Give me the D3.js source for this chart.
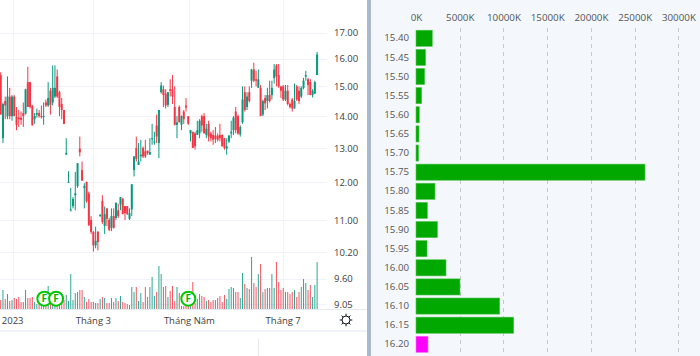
<!DOCTYPE html>
<html>
<head>
<meta charset="utf-8">
<script src="https://cdn.jsdelivr.net/npm/d3@7"></script>
<style>
  html, body { margin: 0; padding: 0; background: #fff; overflow: hidden; }
  svg { display: block; }
  text { font-family: "Open Sans", sans-serif; }
</style>
</head>
<body>
<svg id="chart" width="700" height="356"></svg>
<script>
// candles, oldest first
const opens = [
  15.4,13.3,14.5,14.0,14.65,14.0,14.65,13.98,13.95,13.95,
  14.1,14.08,15.15,15.15,14.35,13.9,14.05,14.1,14.0,13.97,
  14.45,14.35,14.85,14.45,14.65,15.35,14.8,14.4,14.2,12.8,
  12.0,11.25,11.36,11.65,11.9,12.98,12.35,11.85,12.02,11.7,
  11.0,10.7,10.37,10.7,11.1,11.5,10.85,11.3,11.0,10.8,
  11.1,11.05,11.25,11.4,11.55,11.36,11.36,11.03,11.27,12.35,
  13.0,12.5,12.75,13.0,12.9,12.92,12.8,13.28,13.18,13.7,
  13.15,14.8,14.9,14.75,14.37,14.9,14.9,14.3,13.72,14.3,
  13.72,14.15,14.35,14.0,13.45,13.5,13.45,13.4,13.45,14.0,
  14.0,13.4,13.75,13.45,13.4,13.38,13.38,13.4,13.4,13.3,
  12.98,13.2,13.45,13.55,14.15,14.0,13.42,13.8,14.8,14.3,
  14.8,15.2,15.6,15.25,14.95,14.95,14.05,14.6,14.5,14.7,
  14.7,15.3,15.75,15.4,15.0,15.0,14.55,14.85,14.4,14.55,
  14.25,15.0,14.85,14.65,14.95,15.35,15.25,15.15,14.7,14.75,15.4
];
const closes = [
  14.05,14.4,14.35,14.65,14.0,14.65,14.0,13.72,13.9,13.88,
  14.0,14.9,14.3,14.3,13.7,14.0,14.1,14.0,13.97,14.0,
  14.35,14.6,14.37,14.95,14.95,14.65,14.3,14.2,13.75,12.85,
  12.02,11.27,11.55,11.7,12.55,12.87,12.05,11.9,11.49,10.87,
  10.7,10.37,10.48,10.45,11.13,10.95,11.15,11.03,10.75,11.1,
  10.8,11.45,11.1,11.6,11.15,11.18,11.15,11.18,11.95,12.75,
  12.67,12.6,12.8,12.75,12.75,12.85,12.88,13.3,13.2,13.35,
  14.2,15.03,14.7,14.35,14.8,14.85,14.65,13.72,13.8,13.8,
  14.0,13.9,14.28,13.75,13.55,13.0,13.05,13.55,13.85,13.7,
  13.45,13.6,13.35,13.3,13.25,13.28,13.25,13.3,13.05,13.0,
  13.05,13.38,13.5,13.95,13.55,13.45,13.65,14.55,14.2,14.65,
  14.5,15.6,15.2,15.2,15.25,14.0,14.5,14.42,14.7,14.5,
  14.95,15.6,15.35,15.0,14.85,14.55,14.85,14.4,14.3,14.25,
  14.5,14.55,14.5,14.95,15.2,15.4,15.05,14.7,14.85,15.15,16.15
];
const highs = [
  15.5,14.45,14.65,15.35,14.95,14.7,14.7,14.3,14.2,14.15,
  14.45,14.92,15.7,15.15,14.35,14.1,14.25,14.2,14.35,14.45,
  14.55,15.15,14.95,15.75,15.75,15.6,14.85,14.6,14.2,13.3,
  12.32,11.85,11.6,12.3,12.55,13.35,12.6,11.98,12.02,11.75,
  11.1,10.72,10.83,10.72,11.15,11.65,11.35,11.3,11.05,11.3,
  11.3,11.45,11.42,11.6,11.58,11.36,11.36,11.3,11.95,12.75,
  13.35,13.15,13.25,13.05,13.25,12.92,13.3,13.75,13.5,14.05,
  14.2,15.15,15.03,14.9,14.8,15.25,15.4,15.0,14.0,14.35,
  14.02,14.2,14.6,14.0,13.55,13.5,13.5,13.85,13.9,14.05,
  14.1,13.75,13.85,13.5,13.55,13.65,13.45,13.75,13.42,13.3,
  13.3,13.4,13.85,14.0,14.3,14.05,13.7,15.0,15.0,14.8,
  15.0,15.62,15.85,15.55,15.6,15.05,14.55,14.7,14.95,15.2,
  15.2,15.8,15.8,15.8,15.0,15.05,15.05,15.05,14.45,14.6,
  15.1,15.05,15.0,15.0,15.3,15.55,15.3,15.25,14.9,15.2,16.25
];
const lows = [
  14.05,13.15,13.9,13.9,13.9,13.85,14.0,13.55,13.65,13.72,
  13.65,14.05,14.3,14.25,13.7,13.75,13.95,13.95,13.92,13.72,
  14.3,14.3,14.05,14.35,14.6,14.6,14.0,13.9,13.75,12.8,
  12.0,11.22,11.3,11.25,11.85,12.75,12.05,11.3,11.45,10.85,
  10.65,10.22,10.3,10.25,11.08,10.9,10.65,10.85,10.72,10.72,
  10.78,11.0,11.05,11.25,11.15,11.0,11.13,11.0,11.1,12.17,
  12.6,12.5,12.6,12.7,12.7,12.8,12.8,13.1,13.1,13.15,
  12.7,14.75,14.3,14.25,14.3,14.65,14.4,13.7,13.3,13.8,
  13.55,13.75,14.15,13.72,13.2,13.0,12.95,13.4,13.3,13.5,
  13.45,13.3,13.2,13.2,13.1,13.15,13.2,13.2,13.05,12.95,
  12.8,13.15,13.3,13.4,13.45,13.4,13.35,13.75,14.15,14.2,
  14.45,14.95,15.15,15.0,14.95,14.0,14.0,14.2,14.25,14.45,
  14.55,15.1,15.0,14.95,14.6,14.5,14.5,14.35,14.25,14.15,
  14.25,14.5,14.4,14.6,14.9,15.2,14.7,14.7,14.62,14.75,15.4
];
const volumes = [
  900,1900,1000,1500,800,900,1100,1000,1200,700,
  700,1900,1100,1100,1200,700,500,600,900,900,
  900,2300,900,700,600,600,400,700,900,1400,
  800,3500,900,1600,1700,1900,1900,1200,700,1000,
  700,700,600,600,1000,1200,1100,600,600,1100,
  700,1100,800,1300,700,600,500,400,2200,1700,
  2200,800,1600,700,2200,1200,2200,3200,1300,1700,
  4300,3500,2200,2300,1200,1800,2300,800,2200,1600,
  300,300,300,300,300,2700,600,1000,1500,1300,
  1200,800,900,700,900,900,1100,1300,700,1400,
  1000,2000,2200,2100,1700,1700,1100,3600,2500,2100,
  2000,5200,2600,2200,3500,4500,1700,2000,2100,2100,
  3500,2100,4700,2700,1900,2100,1700,1700,1500,1700,
  1900,1200,1700,2200,3000,2600,1900,2400,1200,2400,4700
];

const priceTicks = [17, 16, 15, 14, 13, 12, 11, 10.2, 9.6, 9.05];
const timeLabels = ["2023", "Tháng 3", "Tháng Năm", "Tháng 7"];
const timeIdx = [5.3, 41, 83.5, 125];
const gridIdx = [5.3, 41, 83.3, 125];
const eventIdx = [19.3, 24.5, 83];

// volume by price panel
const levels = ["15.40","15.45","15.50","15.55","15.60","15.65","15.70","15.75","15.80",
  "15.85","15.90","15.95","16.00","16.05","16.10","16.15","16.20"];
const levelVolumes = [1860,1100,990,650,380,340,300,26180,2170,1300,2450,1260,3430,5030,9570,11170,1370];
const volumeTicks = [0,5000,10000,15000,20000,25000,30000];

const upColor = "#089981";
const downColor = "#f23645";
const gridColor = "#f0f3fa";
const textColor = "#3c4043";

const svg = d3.select("#chart");

const x = d3.scaleLinear().domain([0, 140]).range([0.7, 317.1]);
const y = d3.scaleLog().domain([17, 9.05]).range([32.5, 304]);
const vol = d3.scaleLinear().domain([0, 5200]).range([309, 257]);

const candles = opens.map((o, i) => ({
  i, o, c: closes[i], h: highs[i], l: lows[i], v: volumes[i], up: closes[i] >= o
}));

// grid
svg.append("g").selectAll("line")
  .data(priceTicks)
  .join("line")
  .attr("x1", 0).attr("x2", 327)
  .attr("y1", d => Math.round(y(d)) + 0.5).attr("y2", d => Math.round(y(d)) + 0.5)
  .attr("stroke", gridColor);

svg.append("g").selectAll("line")
  .data(gridIdx)
  .join("line")
  .attr("x1", d => Math.round(x(d)) + 0.5).attr("x2", d => Math.round(x(d)) + 0.5)
  .attr("y1", 0).attr("y2", 309)
  .attr("stroke", gridColor);

// volume bars
svg.append("g").selectAll("rect")
  .data(candles)
  .join("rect")
  .attr("x", d => x(d.i) - 0.5)
  .attr("width", 1)
  .attr("y", d => vol(d.v))
  .attr("height", d => 309 - vol(d.v))
  .attr("fill", d => d.up ? upColor : downColor)
  .attr("fill-opacity", 0.85);

// wicks and bodies
svg.append("g").selectAll("line")
  .data(candles)
  .join("line")
  .attr("x1", d => x(d.i)).attr("x2", d => x(d.i))
  .attr("y1", d => y(d.h)).attr("y2", d => y(d.l))
  .attr("stroke", d => d.up ? upColor : downColor);

svg.append("g").selectAll("rect")
  .data(candles)
  .join("rect")
  .attr("x", d => x(d.i) - 1)
  .attr("width", 2)
  .attr("y", d => y(Math.max(d.o, d.c)))
  .attr("height", d => Math.max(1, Math.abs(y(d.o) - y(d.c))))
  .attr("fill", d => d.up ? upColor : downColor);

// F markers
const events = svg.append("g").selectAll("g")
  .data(eventIdx)
  .join("g")
  .attr("transform", d => `translate(${x(d)},298.7)`);
events.append("circle")
  .attr("r", 7)
  .attr("fill", "#fff")
  .attr("stroke", "#00c800")
  .attr("stroke-width", 2);
events.append("text")
  .attr("text-anchor", "middle")
  .attr("y", 3.7)
  .attr("font-size", 10)
  .attr("font-weight", 700)
  .attr("fill", "#00b400")
  .text("F");

// price axis
const priceAxis = svg.append("g")
  .attr("transform", "translate(334,0)")
  .call(d3.axisRight(y).tickValues(priceTicks).tickSize(0).tickPadding(0).tickFormat(d3.format(".2f")));
priceAxis.select(".domain").remove();
priceAxis.selectAll("text")
  .attr("font-size", 9.5)
  .attr("font-family", '"Open Sans", sans-serif')
  .attr("fill", textColor);

// time axis
svg.append("line").attr("x1", 0).attr("x2", 367).attr("y1", 309.5).attr("y2", 309.5).attr("stroke", "#e6e9f0");
svg.append("g").selectAll("text")
  .data(timeLabels)
  .join("text")
  .attr("x", (d, i) => x(timeIdx[i]))
  .attr("y", 324)
  .attr("text-anchor", "middle")
  .attr("font-size", 9.5)
  .attr("fill", textColor)
  .text(d => d);

svg.append("rect").attr("x", 0).attr("y", 330).attr("width", 367).attr("height", 2).attr("fill", gridColor);
svg.append("line").attr("x1", 258.5).attr("x2", 258.5).attr("y1", 339).attr("y2", 356).attr("stroke", "#e6e9f0");

// settings icon
const gear = svg.append("g").attr("transform", "translate(346,320)").attr("stroke", "#131722").attr("fill", "none");
gear.append("circle").attr("r", 4);
gear.selectAll("line")
  .data(d3.range(8))
  .join("line")
  .attr("x1", d => 4 * Math.cos(d * Math.PI / 4)).attr("y1", d => 4 * Math.sin(d * Math.PI / 4))
  .attr("x2", d => 6.3 * Math.cos(d * Math.PI / 4)).attr("y2", d => 6.3 * Math.sin(d * Math.PI / 4));

// right panel
svg.append("rect").attr("x", 367).attr("y", 0).attr("width", 333).attr("height", 356).attr("fill", "#f4f8fc");
svg.append("rect").attr("x", 367).attr("y", 0).attr("width", 4).attr("height", 356).attr("fill", "#a9b8cb");

const xv = d3.scaleLinear().domain([0, 30000]).range([416, 678.4]);
const yl = d3.scaleBand().domain(levels).range([28.7, 353.9]);

svg.append("g").selectAll("line")
  .data(volumeTicks.slice(1))
  .join("line")
  .attr("x1", d => Math.round(xv(d)) + 0.5).attr("x2", d => Math.round(xv(d)) + 0.5)
  .attr("y1", 28).attr("y2", 356)
  .attr("stroke", "#c4c8cc")
  .attr("stroke-dasharray", "4 4");

const topAxis = svg.append("g")
  .attr("transform", "translate(0,21)")
  .call(d3.axisTop(xv).tickValues(volumeTicks).tickSize(0).tickPadding(0).tickFormat(d => d + "K"));
topAxis.select(".domain").remove();
topAxis.selectAll("text")
  .attr("font-size", 9.8)
  .attr("font-family", '"Open Sans", sans-serif')
  .attr("fill", "#555");

svg.append("g").selectAll("rect")
  .data(levels)
  .join("rect")
  .attr("x", 416)
  .attr("y", d => yl(d) + 1.5)
  .attr("width", (d, i) => xv(levelVolumes[i]) - 416)
  .attr("height", yl.bandwidth() - 3)
  .attr("fill", (d, i) => i === levels.length - 1 ? "#ff00ff" : "#00a800")
  .attr("stroke", (d, i) => i === levels.length - 1 ? "#ff66ff" : "#55c455")
  .attr("stroke-width", 0.6);

const levelAxis = svg.append("g")
  .attr("transform", "translate(409,0)")
  .call(d3.axisLeft(yl).tickSize(0).tickPadding(0));
levelAxis.select(".domain").remove();
levelAxis.selectAll("text")
  .attr("font-size", 9.7)
  .attr("font-family", '"Open Sans", sans-serif')
  .attr("fill", "#555");
</script>
</body>
</html>
